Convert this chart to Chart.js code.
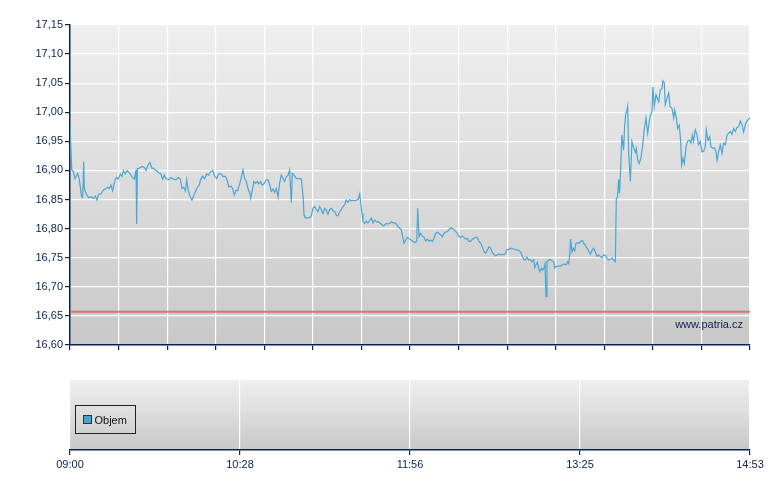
<!DOCTYPE html>
<html><head><meta charset="utf-8">
<script src="https://cdn.jsdelivr.net/npm/chart.js@4.4.1/dist/chart.umd.min.js"></script>
<style>
html,body{margin:0;padding:0;background:#fff;}
#wrap{position:relative;width:780px;height:490px;overflow:hidden;}
#main{position:absolute;left:0;top:0;}
#vol{position:absolute;left:0;top:360px;}
</style></head><body>
<div id="wrap"><canvas id="main" width="780" height="360"></canvas><canvas id="vol" width="780" height="130"></canvas></div>
<script>
// ---- data ----
const minutes = [0,0.9,1.7,2.6,4.0,4.8,6.0,6.6,7.1,7.4,8.7,9.7,10.9,12.1,13.2,14.0,14.9,16.1,17.3,18.3,19.6,20.4,21.3,22.1,23.4,24.2,25.1,26.1,27.0,27.7,28.7,29.6,30.8,32.2,33.4,34.3,34.6,35.0,36.0,37.4,38.6,39.5,40.3,41.5,42.4,43.3,44.6,46.0,47.2,48.1,49.0,49.8,51.2,52.4,53.6,55.0,56.2,57.3,58.1,59.0,59.9,60.6,61.3,62.3,63.3,64.4,65.4,66.3,67.1,68.0,68.9,69.9,70.9,72.0,73.0,74.1,75.1,76.1,77.2,78.4,79.6,80.6,81.5,82.4,83.6,84.4,85.3,86.2,87.0,87.9,88.8,
89.8,90.7,91.5,92.4,93.3,93.8,94.5,95.5,96.2,97.3,97.9,99.0,99.7,100.7,101.9,102.8,103.7,104.5,105.4,106.2,107.1,108.0,108.8,109.7,110.6,111.4,112.3,113.2,114.0,114.9,115.4,116.3,117.5,118.4,119.4,120.1,121.0,121.5,121.8,122.7,123.6,124.4,125.3,126.1,127.0,127.9,128.7,129.6,130.5,131.3,132.2,133.1,133.9,134.8,135.7,136.5,137.4,138.3,139.1,140.0,140.9,141.7,142.6,143.4,144.3,145.2,146.0,146.9,147.8,148.6,149.5,150.4,150.9,151.6,152.1,153.0,153.8,154.7,155.6,156.4,157.3,158.2,159.0,159.9,160.7,161.6,162.5,163.3,164.2,165.1,165.9,166.8,167.7,168.5,169.4,170.3,171.1,172.0,172.9,173.4,174.2,175.1,176.3,177.2,
178.2,179.1,180.0,180.5,181.2,182.0,182.9,183.8,184.6,185.5,186.4,187.2,188.1,189.0,189.8,190.7,191.5,192.4,193.3,194.1,195.0,195.9,196.7,197.6,198.5,199.3,200.2,201.1,201.9,202.8,203.7,204.5,205.4,206.3,207.1,208.0,208.9,209.7,210.6,211.4,212.3,213.2,214.0,214.9,215.8,216.6,217.5,218.4,219.2,220.1,221.0,221.8,222.7,223.6,224.4,225.3,226.2,226.8,227.7,228.6,229.4,230.3,231.2,232.0,232.9,233.8,234.6,235.5,236.4,237.2,238.1,239.0,239.8,240.7,241.2,241.9,242.6,243.3,244.0,244.7,245.4,246.1,246.6,247.1,247.6,248.5,249.3,250.2,251.1,251.6,252.3,253.1,254.0,254.9,255.7,256.6,257.5,258.3,258.9,259.4,259.9,260.6,261.3,262.0,262.7,263.5,264.4,265.3,266.1,266.8,
267.5,268.4,269.2,270.1,271.0,271.8,272.7,273.6,274.4,275.3,276.2,277.0,277.9,278.8,279.6,280.5,281.4,282.2,283.1,283.6,284.3,284.8,285.3,285.9,286.5,287.4,287.9,288.5,289.0,289.5,290.0,290.9,291.7,292.6,293.5,294.0,294.7,295.5,296.4,297.3,298.1,299.0,299.9,300.7,301.3,302.1,302.6,303.3,304.2,304.9,305.6,306.4,307.3,307.8,308.5,309.0,309.9,310.8,311.5,312.5,313.4,313.9,314.8,315.4,316.3,317.0,317.5,318.2,318.9,319.8,320.6,321.5,322.4,323.1,323.7,324.6,325.5,326.3,327.2,328.1,328.9,329.8,330.3,331.2,332.1,332.7,333.6,334.5,335.3,335.9,336.7,337.6,338.5,339.3,340.2,341.1,341.9,342.8,343.6,344.5,345.4,346.2,347.1,348.0,348.8,349.7,350.6,351.4,352.3,353.0];

const prices = [16.978,16.901,16.898,16.886,16.895,16.885,16.855,16.854,16.915,16.869,16.858,16.853,16.855,16.852,16.856,16.849,16.859,16.860,16.866,16.868,16.871,16.869,16.875,16.865,16.884,16.888,16.885,16.894,16.890,16.900,16.894,16.900,16.896,16.889,16.885,16.901,16.808,16.903,16.904,16.907,16.905,16.900,16.908,16.914,16.904,16.904,16.900,16.896,16.894,16.885,16.892,16.886,16.884,16.888,16.885,16.884,16.888,16.885,16.869,16.871,16.865,16.884,16.867,16.855,16.849,16.858,16.866,16.872,16.875,16.886,16.890,16.886,16.894,16.892,16.898,16.900,16.890,16.886,16.894,16.894,16.889,16.890,16.884,16.872,16.873,16.869,16.858,16.866,16.865,16.875,16.886,
16.901,16.886,16.881,16.869,16.861,16.852,16.864,16.881,16.878,16.881,16.877,16.881,16.875,16.877,16.884,16.884,16.875,16.864,16.868,16.862,16.869,16.854,16.878,16.892,16.886,16.881,16.889,16.892,16.901,16.845,16.895,16.892,16.886,16.886,16.886,16.885,16.855,16.823,16.821,16.818,16.819,16.819,16.822,16.835,16.838,16.833,16.829,16.838,16.832,16.826,16.835,16.832,16.825,16.833,16.835,16.831,16.829,16.823,16.822,16.829,16.833,16.838,16.841,16.849,16.845,16.850,16.848,16.849,16.848,16.849,16.850,16.860,16.844,16.826,16.812,16.809,16.813,16.810,16.814,16.818,16.810,16.815,16.812,16.812,16.810,16.808,16.805,16.806,16.809,16.808,16.809,16.812,16.810,16.810,16.808,16.803,16.801,16.798,16.783,16.775,16.780,16.785,16.782,16.780,
16.778,16.776,16.778,16.835,16.786,16.792,16.787,16.785,16.779,16.782,16.778,16.780,16.778,16.783,16.792,16.794,16.792,16.789,16.786,16.792,16.794,16.795,16.798,16.801,16.800,16.799,16.795,16.792,16.786,16.785,16.787,16.785,16.782,16.783,16.778,16.778,16.782,16.783,16.785,16.785,16.778,16.775,16.769,16.760,16.758,16.763,16.769,16.766,16.759,16.756,16.753,16.755,16.756,16.755,16.756,16.755,16.758,16.764,16.764,16.766,16.766,16.765,16.764,16.763,16.763,16.760,16.755,16.747,16.746,16.751,16.746,16.747,16.743,16.747,16.733,16.738,16.742,16.732,16.726,16.732,16.729,16.732,16.739,16.683,16.743,16.746,16.747,16.745,16.743,16.732,16.735,16.735,16.736,16.736,16.738,16.739,16.738,16.743,16.740,16.755,16.782,16.760,16.766,16.762,16.775,16.776,16.775,16.779,16.779,16.774,
16.772,16.766,16.762,16.756,16.763,16.766,16.760,16.752,16.755,16.752,16.750,16.755,16.754,16.749,16.746,16.748,16.750,16.746,16.743,16.852,16.855,16.885,16.861,16.907,16.961,16.935,16.975,16.998,17.001,17.010,16.931,16.881,16.950,16.939,16.931,16.938,16.918,16.912,16.921,16.944,16.970,16.990,16.964,16.984,16.995,17.001,17.044,17.010,17.030,17.024,17.018,17.038,17.041,17.054,17.051,17.013,17.024,17.033,17.010,17.007,16.990,17.004,16.990,16.972,16.978,16.950,16.909,16.921,16.912,16.941,16.950,16.952,16.947,16.961,16.950,16.970,16.961,16.944,16.950,16.932,16.933,16.941,16.970,16.952,16.958,16.941,16.938,16.939,16.932,16.918,16.932,16.944,16.929,16.947,16.944,16.961,16.964,16.967,16.962,16.972,16.967,16.974,16.975,16.985,16.979,16.966,16.979,16.985,16.988,16.991];

const previousClose = 16.657;
const sessionLength = 353;            // minutes from 09:00 to 14:53
const priceMin = 16.60, priceMax = 17.15, priceStep = 0.05;
const timeLabels = ['09:00','10:28','11:56','13:25','14:53'];
const volumeLabel = 'Objem';
const volumes = [];
const watermark = 'www.patria.cz';

// ---- styles ----
const NAVY = '#0b2152';
const FONT = '"Liberation Sans", Arial, sans-serif';

const bgPlugin = {
  id: 'bgGrad',
  beforeDraw(chart) {
    const {ctx, chartArea: a} = chart;
    const g = ctx.createLinearGradient(0, a.top, 0, a.bottom);
    g.addColorStop(0, '#efefef');
    g.addColorStop(1, '#c8c8c8');
    ctx.save();
    ctx.fillStyle = g;
    ctx.fillRect(a.left, a.top, a.right - a.left, a.bottom - a.top);
    ctx.restore();
  }
};

const watermarkPlugin = {
  id: 'wm',
  afterDatasetsDraw(chart) {
    const {ctx, chartArea: a} = chart;
    ctx.save();
    ctx.font = '11px ' + FONT;
    ctx.fillStyle = NAVY;
    ctx.textAlign = 'right';
    ctx.textBaseline = 'alphabetic';
    ctx.fillText(watermark, a.right - 7, a.bottom - 17.5);
    ctx.restore();
  }
};

const series = minutes.map((m, i) => ({x: m, y: prices[i]}));

new Chart(document.getElementById('main'), {
  type: 'line',
  data: {
    datasets: [
      { data: [{x: 0, y: previousClose}, {x: sessionLength, y: previousClose}],
        borderColor: 'rgba(214,100,100,0.85)', borderWidth: 2, pointRadius: 0 },
      { data: series, borderColor: '#4aa6d3', borderWidth: 1.2, pointRadius: 0, tension: 0 }
    ]
  },
  options: {
    responsive: false, animation: false, devicePixelRatio: 1,
    layout: { padding: { top: 25, right: 30, left: 0, bottom: 0 } },
    plugins: { legend: { display: false }, tooltip: { enabled: false } },
    scales: {
      x: {
        type: 'linear', min: 0, max: sessionLength,
        afterBuildTicks(s) { const t = []; for (let i = 0; i <= 14; i++) t.push({value: i * sessionLength / 14}); s.ticks = t; },
        ticks: { display: false },
        grid: { color: '#ffffff', lineWidth: 1.2, tickColor: NAVY, tickLength: 5, drawTicks: true },
        border: { color: NAVY, width: 1.5 },
        afterFit(s) { s.height = 15; }
      },
      y: {
        min: priceMin, max: priceMax,
        afterBuildTicks(s) { const t = []; for (let v = priceMin; v <= priceMax + 1e-9; v += priceStep) t.push({value: Math.round(v * 100) / 100}); s.ticks = t; },
        ticks: { color: NAVY, font: { family: FONT, size: 11 }, padding: 2,
                 callback: v => Number(v).toFixed(2).replace('.', ',') },
        grid: { color: '#ffffff', lineWidth: 1.2, tickColor: NAVY, tickLength: 5 },
        border: { color: NAVY, width: 1.5 },
        afterFit(s) { s.width = 70; }
      }
    }
  },
  plugins: [bgPlugin, watermarkPlugin]
});

const legendPlugin = {
  id: 'boxLegend',
  afterDraw(chart) {
    const {ctx, chartArea: a} = chart;
    const ds = chart.data.datasets[0];
    const x = a.left + 5.5, y = a.top + 25.5;
    ctx.save();
    ctx.strokeStyle = '#222';
    ctx.lineWidth = 1;
    ctx.strokeRect(x, y, 60, 28);
    ctx.fillStyle = ds.backgroundColor;
    ctx.fillRect(x + 8, y + 10, 8, 8);
    ctx.strokeStyle = '#333';
    ctx.strokeRect(x + 8, y + 10, 8, 8);
    ctx.fillStyle = '#111';
    ctx.font = '11px ' + FONT;
    ctx.textBaseline = 'middle';
    ctx.fillText(ds.label, x + 19, y + 15);
    ctx.restore();
  }
};

new Chart(document.getElementById('vol'), {
  type: 'bar',
  data: { datasets: [{ label: volumeLabel, data: volumes, backgroundColor: '#45a3d3' }] },
  options: {
    responsive: false, animation: false, devicePixelRatio: 1,
    layout: { padding: { top: 20, right: 30, left: 70, bottom: 0 } },
    plugins: { legend: { display: false }, tooltip: { enabled: false } },
    scales: {
      x: {
        type: 'linear', min: 0, max: sessionLength, offset: false,
        afterBuildTicks(s) { s.ticks = timeLabels.map((_, i) => ({value: i * sessionLength / (timeLabels.length - 1)})); },
        ticks: { color: NAVY, font: { family: FONT, size: 11 }, padding: 3, maxRotation: 0, autoSkip: false,
                 callback: (v, i) => timeLabels[i] },
        grid: { color: '#ffffff', lineWidth: 1.2, tickColor: NAVY, tickLength: 5, offset: false },
        border: { color: NAVY, width: 1.5 },
        afterFit(s) { s.height = 40; }
      },
      y: { display: false, min: 0, max: 1 }
    }
  },
  plugins: [bgPlugin, legendPlugin]
});
</script>
</body></html>
